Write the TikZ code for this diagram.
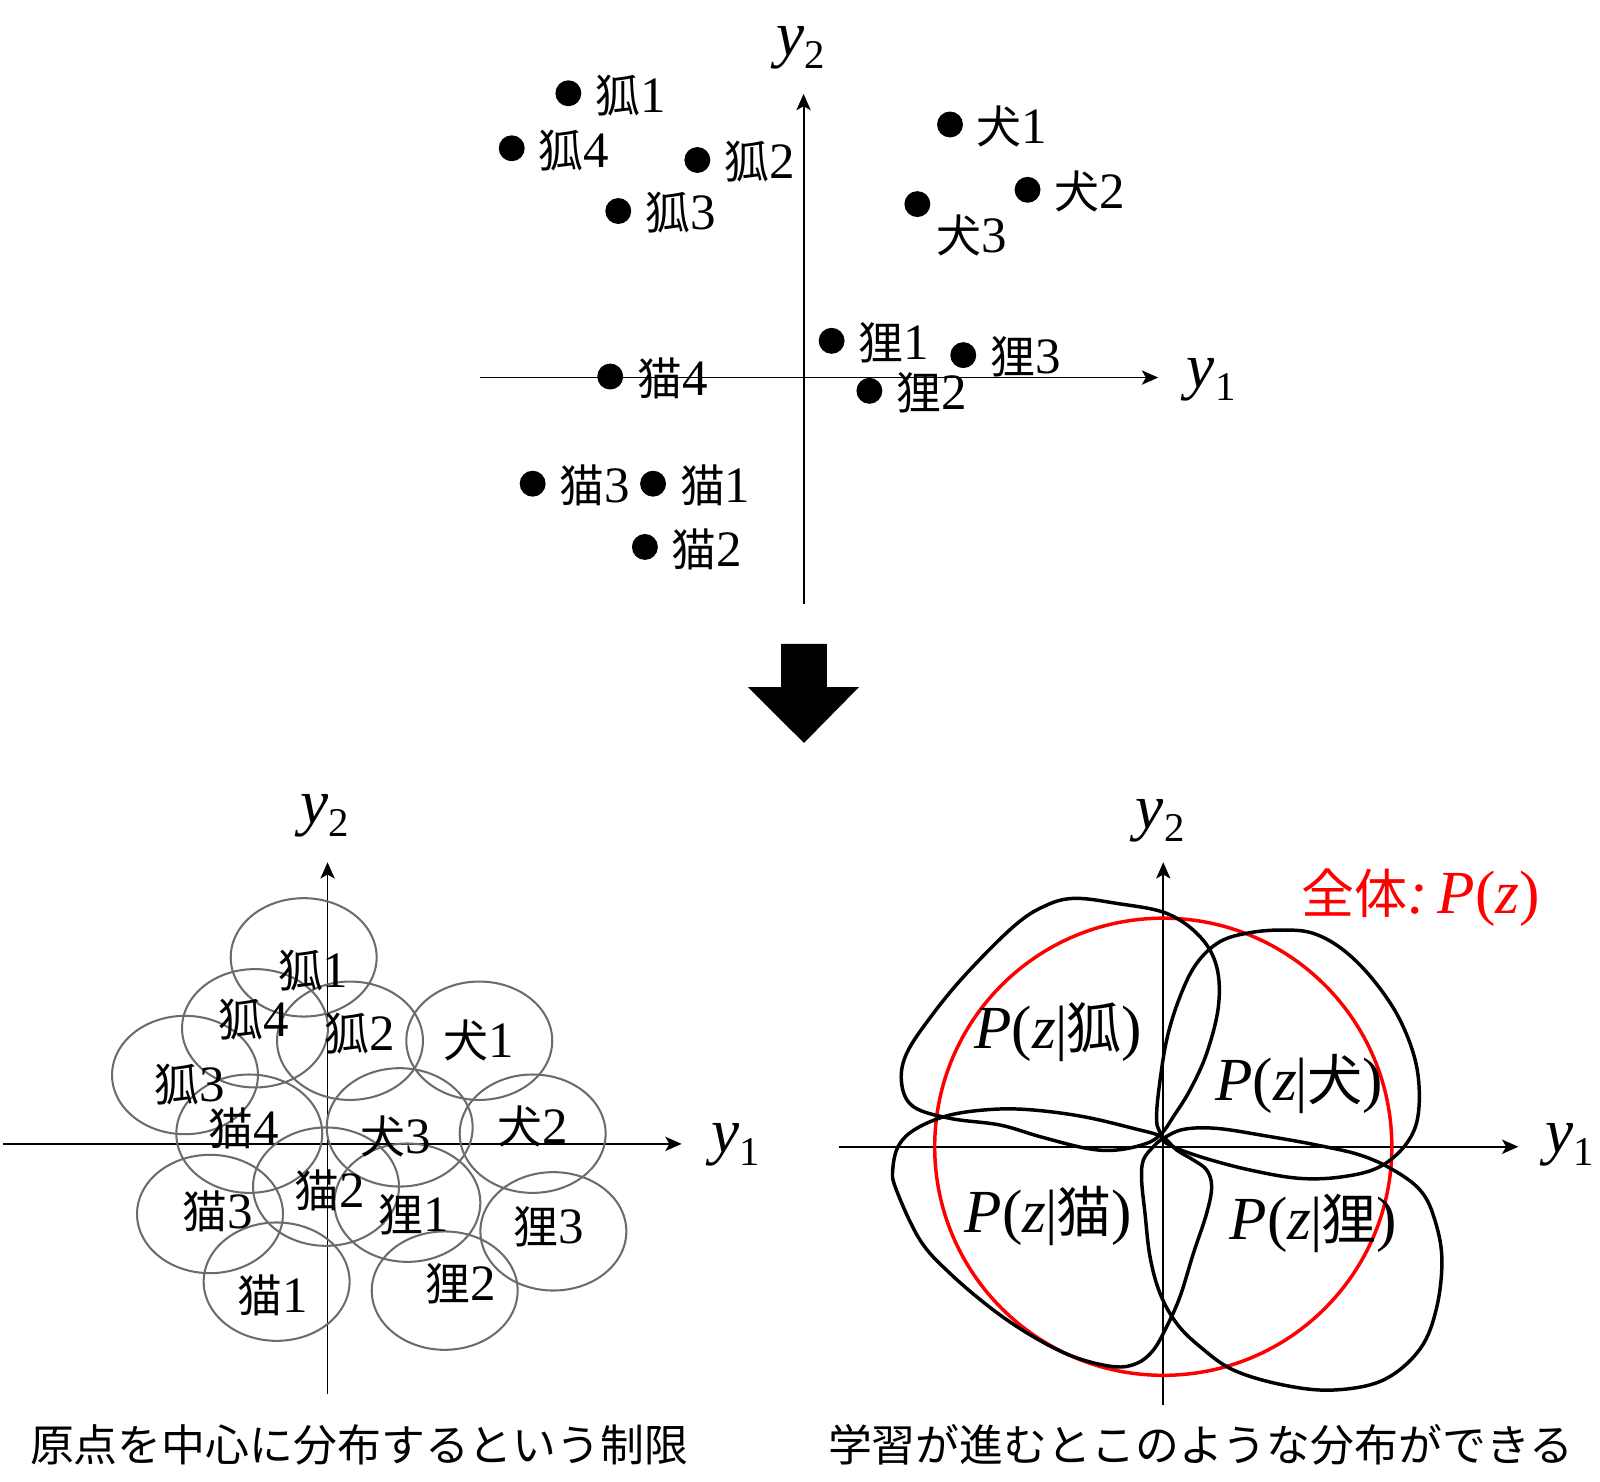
\documentclass[tikz,border=0pt]{standalone}
\usepackage{fontspec}
\setmainfont{Liberation Serif}
\newfontfamily\cjk{Noto Sans CJK JP}
\usetikzlibrary{arrows.meta}
\newcommand\jtxt[1]{{\cjk\fontsize{22}{22}\selectfont #1}}
\newcommand\axlab[1]{\fontsize{31}{31}\selectfont\itshape y\upshape\raisebox{-0.21em}{\fontsize{20}{20}\selectfont #1}}
\newcommand\zit{\textit{z}}
\newcommand\plab[1]{\fontsize{30}{30}\selectfont\textit{P}(\zit\kern-0.5pt|\kern-0.5pt{\cjk\fontsize{27}{27}\selectfont #1})}
\begin{document}
\begin{tikzpicture}[x=0.5pt,y=-0.5pt,
  axis/.style={line width=0.9pt,-{Stealth[length=8pt,width=7pt,inset=2pt]}},
  dotn/.style={circle,fill=black,inner sep=0pt,minimum size=12.7pt},
  dlab/.style={inner sep=0pt,anchor=west,font=\fontsize{25}{25}\selectfont},
  elab/.style={inner sep=0pt,font=\fontsize{25}{25}\selectfont},
  ell/.style={draw=black!58,line width=1pt},
  blob/.style={draw=black,line width=1.7pt},
  axl/.style={inner sep=0pt},
  captxt/.style={inner sep=0pt,font=\cjk\fontsize{21.5}{21.5}\selectfont}]
\useasboundingbox (0,0) rectangle (1568,1451.4);

% ---------- top panel ----------
\coordinate (t1a) at (470,370);
\coordinate (t1b) at (1135,370);
\coordinate (t2a) at (787.5,592);
\coordinate (t2b) at (787.5,92);
\draw[axis] (t1a) -- (t1b);
\draw[axis] (t2a) -- (t2b);
\node[axl] (ty1) at (1187,372) {\axlab{1}};
\node[axl] (ty2) at (785,47) {\axlab{2}};

\foreach \n/\x/\y/\c/\d in {k1/557/91.4/狐/1, k4/501.5/145.3/狐/4, k2/683.4/156.8/狐/2, k3/605.9/206.8/狐/3,
  i1/931/122/犬/1, i2/1007/186/犬/2, r1/815/334/狸/1, r3/944/348/狸/3, r2/852/383/狸/2,
  n4/598/369/猫/4, n3/522/474/猫/3, n1/640/474/猫/1, n2/632/536/猫/2}{
  \node[dotn] (d\n) at (\x,\y) {};
  \node[dlab] (l\n) at (\x+26,\y+2) {\jtxt{\c}\d};
}
\node[dotn] (di3) at (899,200) {};
\node[dlab] (li3) at (917,231) {\jtxt{犬}3};

% ---------- big arrow ----------
\fill (765.4,631) coordinate (ar1) -- (810.4,631) -- (810.4,673.3) -- (841.8,673.3)
  -- (787.9,728.1) coordinate (artip) -- (733,673.3) -- (765.4,673.3) -- cycle;

% ---------- bottom left panel ----------
\coordinate (l1a) at (3,1121);
\coordinate (l1b) at (668,1121);
\coordinate (l2a) at (321,1366);
\coordinate (l2b) at (321,845);
\draw[axis] (l1a) -- (l1b);
\draw[axis] (l2a) -- (l2b);
\node[axl] (ly1) at (721,1122) {\axlab{1}};
\node[axl] (ly2) at (318,799) {\axlab{2}};

\foreach \n/\x/\y in {k1/297.6/938.2, k4/249.9/1007.7, k2/343/1019.9, k3/181.3/1053.5,
  i1/469.7/1019.9, n4/244.3/1111, i3/391.7/1104.8, i2/522/1111, n2/319.5/1162.9,
  n3/205.8/1189.7, r1/399.2/1178.6, r3/542.3/1206.7, n1/271.1/1256, r2/435.8/1264.8}{
  \draw[ell] (\x,\y) ellipse [x radius=71.5, y radius=58];
}
\foreach \n/\x/\y/\c/\d in {k1/307/951.3/狐/1, k4/248.9/999.6/狐/4, k2/352.2/1013.3/狐/2, k3/186.2/1063.3/狐/3,
  i1/468.8/1019.2/犬/1, n4/239.1/1105.8/猫/4, i3/388.1/1114/犬/3, i2/522/1104.1/犬/2,
  n2/323.4/1166.2/猫/2, n3/213/1187.4/猫/3, r1/405.7/1190.7/狸/1, r3/537.4/1202.1/狸/3,
  n1/267.2/1269.1/猫/1, r2/451.5/1257.7/狸/2}{
  \node[elab] (e\n) at (\x,\y) {\jtxt{\c}\d};
}
\node[captxt] (capl) at (352,1416) {原点を中心に分布するという制限};

% ---------- bottom right panel ----------
\coordinate (r1a) at (822,1123.8);
\coordinate (r1b) at (1488,1123.8);
\coordinate (r2a) at (1140,1377);
\coordinate (r2b) at (1140,845);
\coordinate (org) at (1140,1123.8);
\draw[axis] (r1a) -- (r1b);
\draw[axis] (r2a) -- (r2b);
\node[axl] (ry1) at (1538,1122) {\axlab{1}};
\node[axl] (ry2) at (1137,804) {\axlab{2}};

\draw[red,line width=1.7pt] (org) circle [radius=224];

% fox
\draw[blob] plot[smooth cycle,tension=0.6] coordinates {
 (1138.4,1110.7) (1123.7,1120.5) (1094.3,1127) (1064.9,1125.4) (1019.2,1113.9) (980,1102.5)
 (931,1096) (895.1,1084.5) (883.6,1061.7) (888.5,1032.3) (914.7,993.1) (947.3,953.9)
 (993.1,908.1) (1022.5,888.5) (1051.9,880.4) (1094.3,885.3) (1143.3,895.1) (1176,917.9)
 (1192.3,947.3) (1194,986.5) (1182.5,1032.3) (1166.2,1068.2) (1149.9,1094.3)};
% dog
\draw[blob] plot[smooth cycle,tension=0.6] coordinates {
 (1136,1108) (1133.5,1097.6) (1135.2,1071.5) (1143.3,1019.2) (1156.4,976.7) (1172.7,944.1)
 (1195.6,922.8) (1225,914) (1257.7,911.4) (1287.1,914.7) (1316.5,931) (1345.9,960.4)
 (1372,999.6) (1388.3,1045.3) (1390,1091.1) (1378.5,1120.5) (1352.4,1143.3) (1316.5,1153.1)
 (1274,1154.8) (1225,1146.6) (1176,1133.5) (1143.3,1120.5)};
% tanuki
\draw[blob] plot[smooth cycle,tension=0.6] coordinates {
 (1140.1,1115.6) (1159.7,1106.8) (1192.3,1105.8) (1241.3,1113.3) (1290.3,1122.1)
 (1332.8,1131.9) (1365.5,1146.6) (1391.6,1166.2) (1405,1192) (1413,1232) (1408,1281)
 (1391.6,1322) (1355.7,1352.4) (1306.7,1362.2) (1257.7,1357.3) (1208.7,1342.6)
 (1176,1319.7) (1153.1,1296.9) (1136.8,1267.5) (1127,1231.5) (1122.1,1189.1)
 (1118.8,1156.4) (1120.5,1136.8) (1130.3,1123.8)};
% cat
\draw[blob] plot[smooth cycle,tension=0.6] coordinates {
 (1138.4,1113.9) (1110.7,1105.8) (1061.7,1094.3) (1012.7,1087.8) (973.5,1087.1)
 (931,1092.7) (898.3,1105.8) (881,1122) (875,1145) (878,1165) (901.6,1215.2)
 (931,1247.9) (973.5,1283.8) (1012.7,1310) (1051.9,1329.5) (1091.1,1339.3) (1114,1336.1)
 (1130.3,1323) (1143.3,1300.1) (1156.4,1270.7) (1169.5,1228.3) (1182.5,1189.1)
 (1187.4,1162.9) (1182.5,1146.6) (1169.5,1136.8) (1153.1,1127)};

\node[axl] (pk) at (1037,1011) {\plab{狐}};
\node[axl] (pi) at (1273,1062) {\plab{犬}};
\node[axl] (pn) at (1027.4,1192) {\plab{猫}};
\node[axl] (pr) at (1287,1199) {\plab{狸}};
\node[axl,text=red] (pall) at (1392,880) {{\cjk\fontsize{26}{26}\selectfont 全体}{\fontsize{30}{30}\selectfont\textit{:}\,\textit{P}(\zit)}};

\node[captxt] (capr) at (1176.5,1416) {学習が進むとこのような分布ができる};
\end{tikzpicture}
\end{document}
